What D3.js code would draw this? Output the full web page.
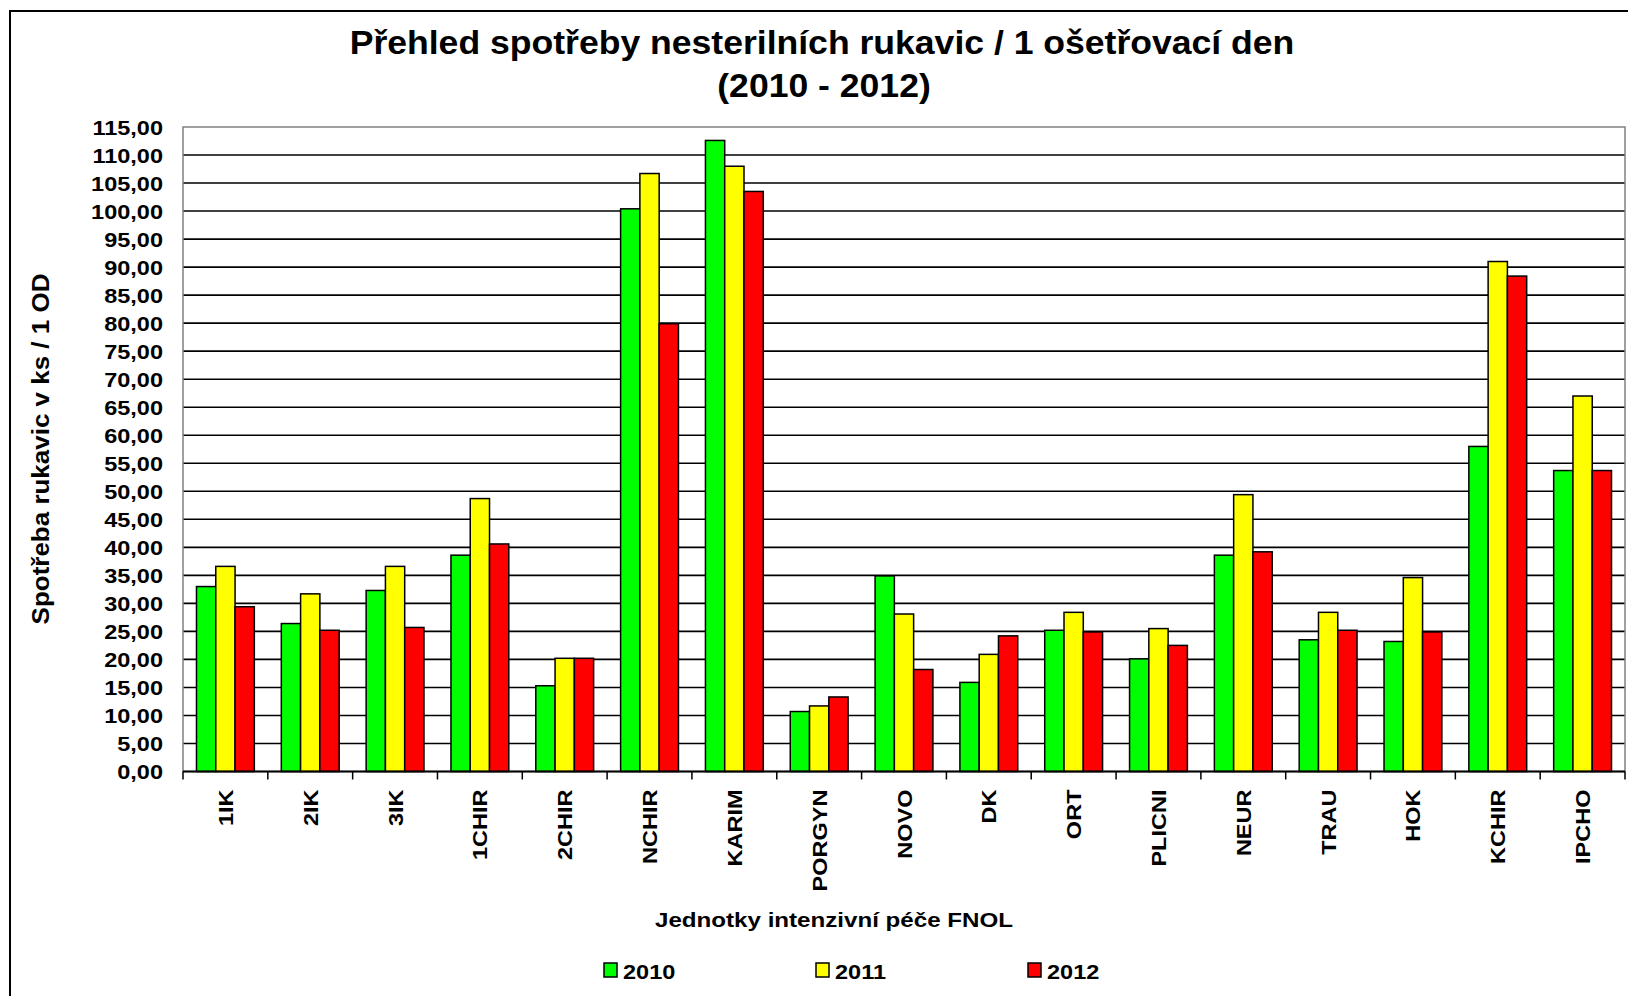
<!DOCTYPE html>
<html>
<head>
<meta charset="utf-8">
<script src="https://cdn.jsdelivr.net/npm/d3@7"></script>
<style>
  body { margin: 0; background: #fff; }
  text { font-family: "Liberation Sans", Arial, sans-serif; font-weight: bold; fill: #000; }
</style>
</head>
<body>
<svg id="chart" width="1628" height="996"></svg>
<script>
// jednotky (kategorie na ose x)
const units = ["1IK", "2IK", "3IK", "1CHIR", "2CHIR", "NCHIR", "KARIM", "PORGYN", "NOVO",
  "DK", "ORT", "PLICNI", "NEUR", "TRAU", "HOK", "KCHIR", "IPCHO"];
const years = ["2010", "2011", "2012"];

// spotreba v ks / 1 OD
const v2010 = [33.0, 26.4, 32.3, 38.6, 15.3, 100.4, 112.6, 10.7, 34.9, 15.9, 25.2, 20.1, 38.6, 23.5, 23.2, 58.0, 53.7];
const v2011 = [36.6, 31.7, 36.6, 48.7, 20.2, 106.7, 108.0, 11.7, 28.1, 20.9, 28.4, 25.5, 49.4, 28.4, 34.6, 91.0, 67.0];
const v2012 = [29.4, 25.2, 25.7, 40.6, 20.2, 79.9, 103.5, 13.3, 18.2, 24.2, 24.9, 22.5, 39.2, 25.2, 24.9, 88.4, 53.7];
const yTicks = d3.range(0, 116, 5);

const colors = ["#00ff00", "#ffff00", "#ff0000"];
const series = [v2010, v2011, v2012];

const svg = d3.select("#chart");
const sx = 1.12; // texty v originale jsou roztazene do sirky

const plot = { left: 183, right: 1625, top: 127, bottom: 771.5 };

// ramecek kolem celeho grafu
svg.append("rect")
  .attr("x", 10).attr("y", 11)
  .attr("width", 1700).attr("height", 1100)
  .attr("fill", "none").attr("stroke", "#000").attr("stroke-width", 2);

const x = d3.scaleBand().domain(units).range([plot.left, plot.right]);
const xIn = d3.scaleBand().domain(years).range([0, x.bandwidth()]).paddingInner(0).paddingOuter(0.7);
const y = d3.scaleLinear().domain([0, 115]).range([plot.bottom, plot.top]);

// mrizka
svg.append("g")
  .selectAll("line")
  .data(yTicks.filter(d => d > 0 && d < 115))
  .join("line")
  .attr("x1", plot.left).attr("x2", plot.right)
  .attr("y1", d => y(d)).attr("y2", d => y(d))
  .attr("stroke", "#000").attr("stroke-width", 1.6);

// okraj plochy
svg.append("rect")
  .attr("x", plot.left).attr("y", plot.top)
  .attr("width", plot.right - plot.left).attr("height", plot.bottom - plot.top)
  .attr("fill", "none").attr("stroke", "#808080").attr("stroke-width", 1.5);

// sloupce
const groups = svg.append("g")
  .selectAll("g")
  .data(units)
  .join("g")
  .attr("transform", d => `translate(${x(d)},0)`);

groups.selectAll("rect")
  .data((d, i) => years.map((yr, j) => ({ yr, v: series[j][i], c: colors[j] })))
  .join("rect")
  .attr("x", d => xIn(d.yr))
  .attr("width", xIn.bandwidth())
  .attr("y", d => y(d.v))
  .attr("height", d => y(0) - y(d.v))
  .attr("fill", d => d.c)
  .attr("stroke", "#000").attr("stroke-width", 1.5);

// osa y
const yAxis = svg.append("g")
  .attr("transform", `translate(${plot.left},0)`)
  .call(d3.axisLeft(y).tickValues(yTicks).tickSize(0).tickPadding(0)
    .tickFormat(d => d3.format(".2f")(d).replace(".", ",")));
yAxis.select(".domain").remove();
yAxis.selectAll("text")
  .attr("font-size", 21)
  .attr("x", -20 / sx)
  .attr("dy", "0.35em")
  .attr("transform", `scale(${sx},1)`)
  .style("font-family", "'Liberation Sans', Arial, sans-serif")
  .style("font-weight", "bold");

// osa x
svg.append("line")
  .attr("x1", plot.left).attr("x2", plot.right)
  .attr("y1", plot.bottom).attr("y2", plot.bottom)
  .attr("stroke", "#000").attr("stroke-width", 2);

svg.append("g")
  .selectAll("line")
  .data(units.concat(["end"]))
  .join("line")
  .attr("x1", d => d === "end" ? plot.right : x(d))
  .attr("x2", d => d === "end" ? plot.right : x(d))
  .attr("y1", plot.bottom).attr("y2", plot.bottom + 8)
  .attr("stroke", "#000").attr("stroke-width", 1.5);

const xAxis = svg.append("g")
  .attr("transform", `translate(0,${plot.bottom})`)
  .call(d3.axisBottom(x).tickSize(0).tickPadding(0));
xAxis.select(".domain").remove();
xAxis.selectAll("text")
  .attr("font-size", 21)
  .attr("y", 0)
  .attr("dy", 0)
  .attr("text-anchor", "end")
  .attr("transform", `translate(7.5,18) rotate(-90) scale(${sx},1)`)
  .style("font-family", "'Liberation Sans', Arial, sans-serif")
  .style("font-weight", "bold");

// nadpis
const title = svg.append("g");
title.append("text")
  .attr("text-anchor", "middle")
  .attr("font-size", 33)
  .attr("transform", "translate(822,54) scale(1.078,1)")
  .text("Přehled spotřeby nesterilních rukavic / 1 ošetřovací den");
title.append("text")
  .attr("text-anchor", "middle")
  .attr("font-size", 33)
  .attr("transform", "translate(824,97) scale(1.078,1)")
  .text("(2010 - 2012)");

// popisky os
svg.append("text")
  .attr("text-anchor", "middle")
  .attr("font-size", 21)
  .attr("transform", "translate(834,927) scale(1.15,1)")
  .text("Jednotky intenzivní péče FNOL");

svg.append("text")
  .attr("text-anchor", "middle")
  .attr("font-size", 23)
  .attr("transform", "translate(49,449) rotate(-90) scale(1.13,1)")
  .text("Spotřeba rukavic v ks / 1 OD");

// legenda
const legend = svg.append("g")
  .selectAll("g")
  .data(years)
  .join("g")
  .attr("transform", (d, i) => `translate(${604 + i * 212},963)`);
legend.append("rect")
  .attr("width", 13).attr("height", 14)
  .attr("fill", (d, i) => colors[i])
  .attr("stroke", "#000").attr("stroke-width", 1.5);
legend.append("text")
  .attr("font-size", 21)
  .attr("transform", `translate(19,15.5) scale(${sx},1)`)
  .text(d => d);
</script>
</body>
</html>
